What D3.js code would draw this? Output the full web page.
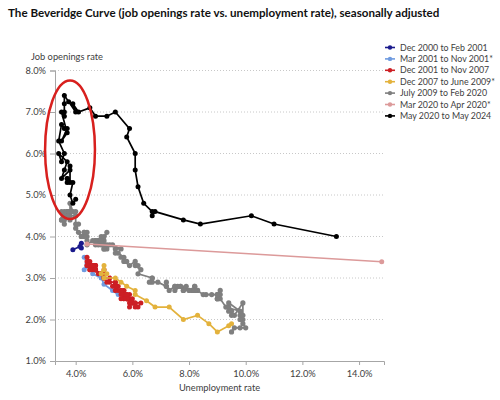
<!DOCTYPE html>
<html>
<head>
<meta charset="utf-8">
<script src="https://cdn.jsdelivr.net/npm/d3@7"></script>
<style>
  body { margin: 0; background: #fff; }
  svg { display: block; font-family: Lato, "Open Sans", sans-serif; }
</style>
</head>
<body>
<div id="chart"></div>
<script>
// [unemployment rate, job openings rate]
var dec2000ToFeb2001 = [[3.9, 3.68], [4.15, 3.76], [4.2, 3.72], [4.2, 3.84]];
var mar2001ToNov2001 = [[4.3, 3.5], [4.4, 3.35], [4.3, 3.2], [4.5, 3.3], [4.6, 3.1], [4.9, 3.0], [5.0, 2.85], [5.3, 2.7], [5.5, 2.6]];
var dec2001ToNov2007 = [
  [5.7, 2.7],
  [5.7, 2.6], [5.7, 2.7], [5.7, 2.6], [5.9, 2.6], [5.8, 2.5], [5.8, 2.6], [5.8, 2.5], [5.7, 2.6], [5.7, 2.5], [5.7, 2.6], [5.9, 2.5], [6.0, 2.4],
  [5.8, 2.5], [5.9, 2.4], [5.9, 2.3], [6.0, 2.4], [6.1, 2.4], [6.3, 2.4], [6.2, 2.3], [6.1, 2.4], [6.1, 2.3], [6.0, 2.5], [5.8, 2.5], [5.7, 2.5],
  [5.7, 2.6], [5.6, 2.5], [5.8, 2.6], [5.6, 2.7], [5.6, 2.6], [5.6, 2.7], [5.5, 2.7], [5.4, 2.8], [5.4, 2.7], [5.5, 2.8], [5.4, 2.8], [5.4, 2.9],
  [5.3, 2.8], [5.4, 2.9], [5.2, 2.9], [5.2, 3.0], [5.1, 2.9], [5.0, 3.0], [5.0, 3.0], [4.9, 3.1], [5.0, 3.2], [5.0, 3.1], [5.0, 3.0], [4.9, 3.1],
  [4.7, 3.2], [4.8, 3.1], [4.7, 3.3], [4.7, 3.3], [4.6, 3.3], [4.6, 3.2], [4.7, 3.3], [4.7, 3.2], [4.5, 3.2], [4.4, 3.4], [4.5, 3.3], [4.4, 3.5],
  [4.6, 3.3], [4.5, 3.4], [4.4, 3.3], [4.5, 3.2], [4.4, 3.3], [4.6, 3.3], [4.7, 3.2], [4.6, 3.3], [4.7, 3.2], [4.7, 3.2], [4.7, 3.2]
];
var dec2007ToJun2009 = [[5.0, 3.2], [5.0, 3.3], [4.9, 3.1], [5.1, 3.1], [5.0, 3.0], [5.4, 3.0], [5.6, 2.9], [5.8, 2.8], [6.1, 2.7], [6.1, 2.6],
  [6.5, 2.45], [6.8, 2.3], [7.3, 2.3], [7.8, 2.0], [8.3, 2.1], [8.7, 1.9], [9.0, 1.7], [9.4, 1.85], [9.5, 1.9]];
var jul2009ToFeb2020 = [
  [9.5, 1.7], [9.6, 1.8], [9.8, 1.8], [10.0, 1.8], [9.9, 1.9], [9.9, 2.0],
  [9.8, 2.1], [9.8, 2.0], [9.9, 2.1], [9.9, 2.4], [9.6, 2.1], [9.4, 2.2], [9.4, 2.3], [9.5, 2.2], [9.5, 2.1], [9.4, 2.4], [9.8, 2.2], [9.3, 2.3],
  [9.1, 2.5], [9.0, 2.5], [9.0, 2.6], [9.1, 2.6], [9.0, 2.5], [9.1, 2.7], [9.0, 2.6], [9.0, 2.5], [9.0, 2.6], [8.8, 2.6], [8.6, 2.6], [8.5, 2.6],
  [8.3, 2.7], [8.3, 2.7], [8.2, 2.8], [8.2, 2.7], [8.2, 2.8], [8.2, 2.7], [8.2, 2.7], [8.1, 2.7], [7.8, 2.7], [7.8, 2.7], [7.7, 2.8], [7.9, 2.8],
  [8.0, 2.7], [7.7, 2.8], [7.5, 2.7], [7.6, 2.8], [7.5, 2.8], [7.5, 2.8], [7.3, 2.7], [7.2, 2.8], [7.2, 2.9], [7.2, 2.8], [6.9, 2.9], [6.7, 2.9],
  [6.6, 2.9], [6.7, 3.0], [6.7, 3.0], [6.2, 3.1], [6.3, 3.2], [6.1, 3.3], [6.2, 3.3], [6.1, 3.4], [5.9, 3.3], [5.7, 3.4], [5.8, 3.4], [5.6, 3.5],
  [5.7, 3.5], [5.5, 3.6], [5.4, 3.6], [5.4, 3.7], [5.6, 3.7], [5.3, 3.8], [5.2, 3.8], [5.1, 3.7], [5.0, 3.7], [5.0, 3.8], [5.1, 3.8], [5.0, 3.7],
  [4.8, 3.9], [4.9, 3.9], [5.0, 3.9], [5.1, 4.1], [4.8, 3.8], [4.9, 4.0], [4.8, 3.9], [4.9, 3.8], [5.0, 4.0], [4.9, 3.9], [4.7, 3.9], [4.7, 3.8],
  [4.7, 3.9], [4.6, 3.9], [4.4, 3.8], [4.4, 3.9], [4.4, 4.0], [4.3, 4.1], [4.3, 4.0], [4.4, 4.1], [4.3, 4.1], [4.2, 4.0], [4.2, 4.0], [4.1, 4.1],
  [4.0, 4.2], [4.1, 4.3], [4.0, 4.3], [4.0, 4.5], [3.8, 4.4], [4.0, 4.5], [3.8, 4.5], [3.8, 4.6], [3.7, 4.6], [3.8, 4.6], [3.8, 4.8], [3.9, 4.6],
  [4.0, 4.6], [3.8, 4.6], [3.8, 4.6], [3.7, 4.6], [3.6, 4.6], [3.6, 4.5], [3.7, 4.5], [3.6, 4.5], [3.5, 4.4], [3.6, 4.4], [3.6, 4.5], [3.6, 4.3],
  [3.5, 4.4], [3.5, 4.6]
];
var mar2020ToApr2020 = [[4.4, 3.82], [14.8, 3.39]];
var may2020ToMay2024 = [
  [13.2, 4.0], [11.0, 4.3], [10.2, 4.5], [8.4, 4.3], [7.8, 4.4], [6.8, 4.6], [6.7, 4.5], [6.7, 4.6],
  [6.4, 4.8], [6.2, 5.2], [6.1, 5.6], [6.1, 6.0], [5.8, 6.4], [5.9, 6.6], [5.4, 7.0], [5.1, 6.9], [4.7, 6.9], [4.5, 7.1], [4.1, 7.0], [3.9, 7.2],
  [4.0, 7.0], [3.75, 7.25], [3.6, 7.4], [3.6, 7.2], [3.6, 7.0], [3.6, 6.9], [3.5, 7.0], [3.7, 6.5], [3.5, 6.3], [3.7, 6.6], [3.6, 6.6], [3.5, 6.7],
  [3.4, 6.3], [3.6, 6.0], [3.5, 5.8], [3.4, 6.0], [3.7, 5.8], [3.6, 5.6], [3.5, 5.4], [3.8, 5.6], [3.8, 5.7], [3.8, 5.3], [3.7, 5.3], [3.7, 5.4],
  [3.7, 5.4], [3.9, 5.3], [3.8, 5.0], [3.9, 4.8], [4.0, 4.9]
];

var seriesNames = ["Dec 2000 to Feb 2001", "Mar 2001 to Nov 2001*", "Dec 2001 to Nov 2007", "Dec 2007 to June 2009*",
  "July 2009 to Feb 2020", "Mar 2020 to Apr 2020*", "May 2020 to May 2024"];
var seriesValues = [dec2000ToFeb2001, mar2001ToNov2001, dec2001ToNov2007, dec2007ToJun2009,
  jul2009ToFeb2020, mar2020ToApr2020, may2020ToMay2024];
var seriesColors = ["#1a1a8c", "#6f9be0", "#cc1f24", "#e3b23c", "#7f7f7f", "#dc9a9a", "#000000"];

var xTicks = [4, 6, 8, 10, 12, 14];
var yTicks = [1, 2, 3, 4, 5, 6, 7, 8];

var width = 500, height = 400;
var plotLeft = 55, plotRight = 384, plotTop = 70.5, plotBottom = 361;

var svg = d3.select("#chart").append("svg")
  .attr("width", width).attr("height", height);

var x = d3.scaleLinear().domain([3.27, 14.88]).range([plotLeft, plotRight]);
var y = d3.scaleLinear().domain([1, 8]).range([plotBottom, plotTop]);

svg.append("text")
  .attr("x", 8).attr("y", 17)
  .attr("font-size", "11.6px").attr("font-weight", "bold").attr("fill", "#111")
  .text("The Beveridge Curve (job openings rate vs. unemployment rate), seasonally adjusted");

// gridlines
svg.append("g").selectAll("line")
  .data(yTicks.slice(1)).enter().append("line")
  .attr("x1", plotLeft).attr("x2", plotRight)
  .attr("y1", function (d) { return y(d); })
  .attr("y2", function (d) { return y(d); })
  .attr("stroke", "#c8c8c8").attr("stroke-width", 1)
  .attr("stroke-dasharray", "1,2");

var yAxis = svg.append("g")
  .attr("transform", "translate(" + plotLeft + ",0)")
  .call(d3.axisLeft(y).tickValues(yTicks).tickSize(5).tickPadding(4)
    .tickFormat(function (d) { return d.toFixed(1) + "%"; }));

var xAxis = svg.append("g")
  .attr("transform", "translate(0," + plotBottom + ")")
  .call(d3.axisBottom(x).tickValues(xTicks).tickSize(4).tickPadding(5)
    .tickFormat(function (d) { return d.toFixed(1) + "%"; }));

[xAxis, yAxis].forEach(function (a) {
  a.select(".domain").attr("stroke", "#a6a6a6");
  a.selectAll(".tick line").attr("stroke", "#a6a6a6");
  a.selectAll(".tick text")
    .attr("fill", "#404040").attr("font-size", "9.3px")
    .attr("font-family", "Lato, sans-serif");
});

svg.append("text")
  .attr("x", 31).attr("y", 60)
  .attr("font-size", "9.3px").attr("fill", "#404040")
  .text("Job openings rate");

svg.append("text")
  .attr("x", (plotLeft + plotRight) / 2).attr("y", 391)
  .attr("text-anchor", "middle")
  .attr("font-size", "9.3px").attr("fill", "#404040")
  .text("Unemployment rate");

// series
var line = d3.line()
  .x(function (d) { return x(d[0]); })
  .y(function (d) { return y(d[1]); });

var groups = svg.append("g").selectAll("g")
  .data(seriesValues).enter().append("g");

groups.append("path")
  .attr("d", function (d) { return line(d); })
  .attr("fill", "none")
  .attr("stroke", function (d, i) { return seriesColors[i]; })
  .attr("stroke-width", function (d, i) { return i === 5 ? 1.5 : 1.7; });

groups.each(function (d, i) {
  d3.select(this).selectAll("circle")
    .data(d).enter().append("circle")
    .attr("cx", function (p) { return x(p[0]); })
    .attr("cy", function (p) { return y(p[1]); })
    .attr("r", i === 4 ? 2.6 : 2.5)
    .attr("fill", seriesColors[i]);
});

// highlight ellipse
svg.append("ellipse")
  .attr("cx", x(3.8)).attr("cy", y(6.09))
  .attr("rx", x(4.68) - x(3.8)).attr("ry", y(4.42) - y(6.09))
  .attr("fill", "none").attr("stroke", "#d8201e").attr("stroke-width", 2.5);

// legend
var legend = svg.append("g").selectAll("g")
  .data(seriesNames).enter().append("g")
  .attr("transform", function (d, i) { return "translate(385," + (47.5 + i * 11.4) + ")"; });

legend.append("line")
  .attr("x1", 0).attr("x2", 10)
  .attr("stroke", function (d, i) { return seriesColors[i]; })
  .attr("stroke-width", 1.6);

legend.append("circle")
  .attr("cx", 5).attr("r", 2.2)
  .attr("fill", function (d, i) { return seriesColors[i]; });

legend.append("text")
  .attr("x", 15).attr("dy", "0.35em")
  .attr("font-size", "8.8px").attr("fill", "#404040")
  .text(function (d) { return d; });
</script>
</body>
</html>
